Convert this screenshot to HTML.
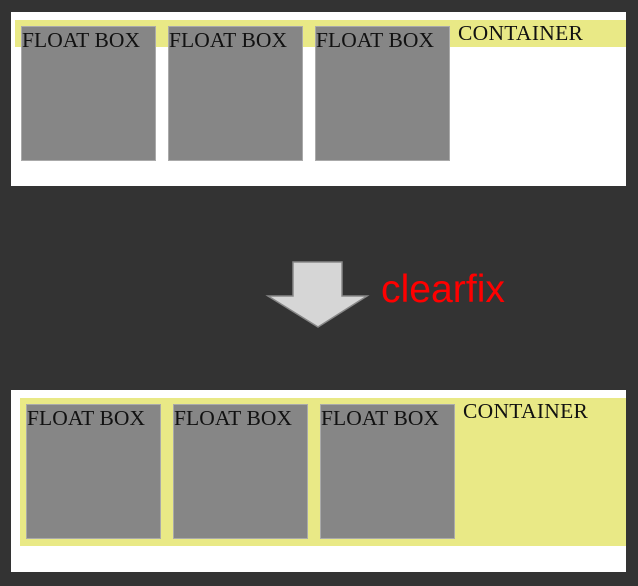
<!DOCTYPE html>
<html><head><style>
body{margin:0;width:638px;height:586px;background:#333;position:relative;overflow:hidden;font-family:"Liberation Serif",serif}
div{position:absolute;box-sizing:border-box}
.w{background:#fff}
.y{background:#e9e986}
.b{background:#868686;border:1px solid #aaa;width:135px;height:135px;font-size:21.5px;line-height:26px;color:#111;white-space:nowrap;letter-spacing:0.1px}
.c{font-size:21.5px;color:#111;white-space:nowrap;letter-spacing:0.3px}
</style></head><body>
<div class="w" style="left:11px;top:12px;width:615px;height:174px"></div>
<div class="y" style="left:15px;top:20px;width:611px;height:27px"></div>
<div class="b" style="left:21px;top:26px">FLOAT BOX</div>
<div class="b" style="left:168px;top:26px">FLOAT BOX</div>
<div class="b" style="left:315px;top:26px">FLOAT BOX</div>
<div class="c" style="left:458px;top:21px">CONTAINER</div>

<svg style="position:absolute;left:0;top:0" width="638" height="586">
<polygon points="293,262 342,262 342,296 367,296 318,327 268,296 293,296" fill="#d6d6d6" stroke="#888" stroke-width="1.5"/>
<text x="381" y="302" fill="#ff0000" font-family="Liberation Sans, sans-serif" font-size="39" textLength="124" lengthAdjust="spacingAndGlyphs">clearfix</text>
</svg>

<div class="w" style="left:11px;top:390px;width:615px;height:182px"></div>
<div class="y" style="left:20px;top:398px;width:606px;height:148px"></div>
<div class="b" style="left:26px;top:404px">FLOAT BOX</div>
<div class="b" style="left:173px;top:404px">FLOAT BOX</div>
<div class="b" style="left:320px;top:404px">FLOAT BOX</div>
<div class="c" style="left:463px;top:399px">CONTAINER</div>
</body></html>
